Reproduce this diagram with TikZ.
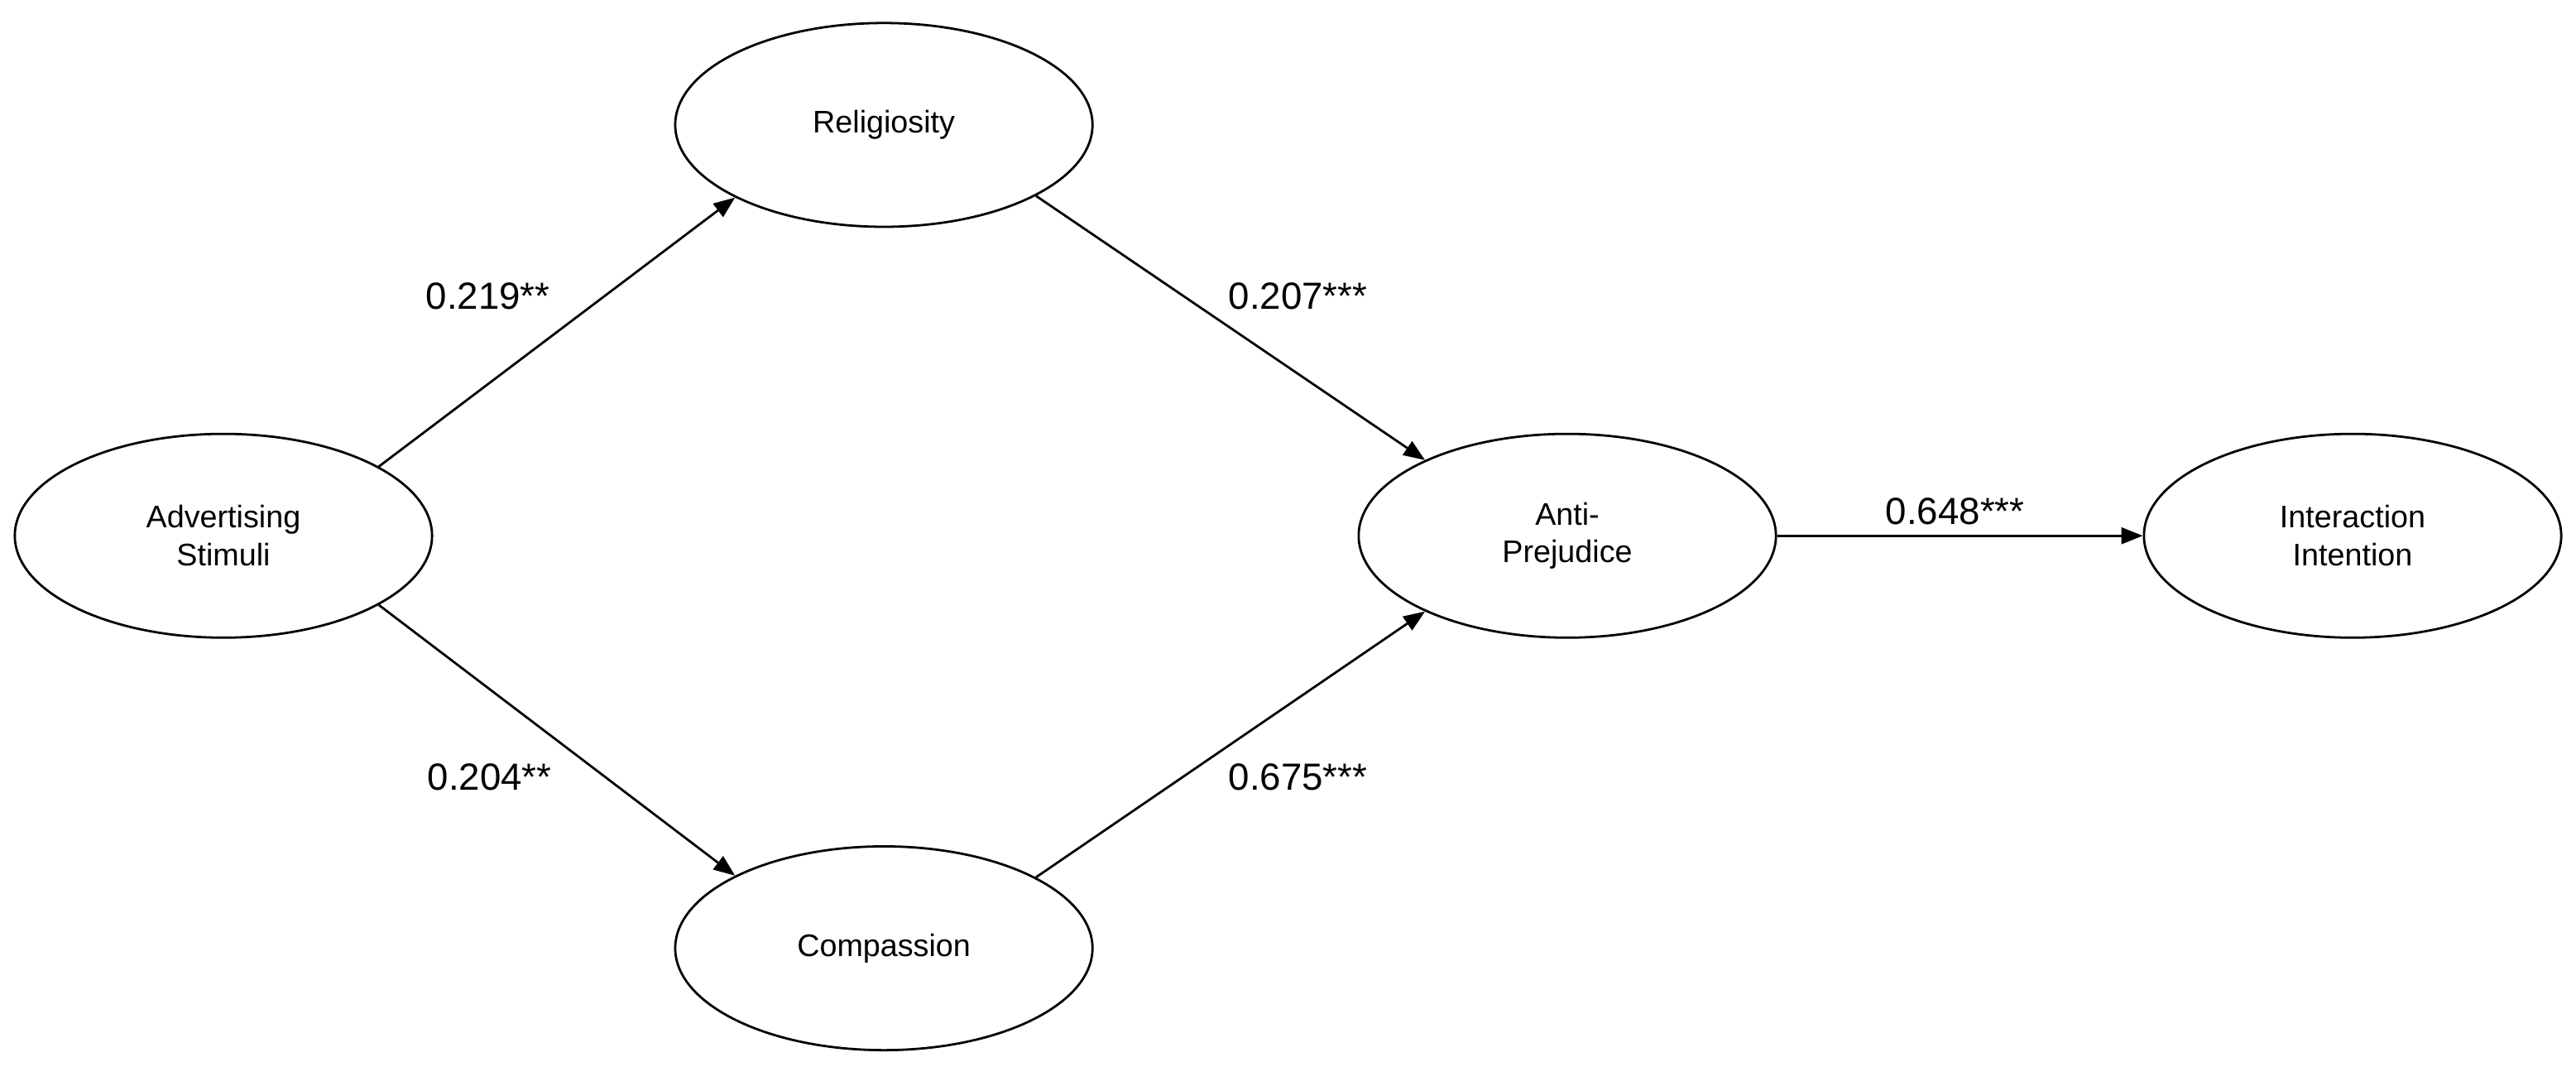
\documentclass[tikz,border=0pt]{standalone}
\usepackage{fontspec}
\setmainfont{Liberation Sans}
\usetikzlibrary{shapes.geometric,arrows.meta}
\begin{document}
\begin{tikzpicture}[x=1pt,y=-1pt,
  ell/.style={ellipse,draw,line width=1.4pt,minimum width=254pt,minimum height=124pt,inner sep=0pt,align=center,font=\fontsize{19}{23}\selectfont},
  arr/.style={line width=1.4pt,-{Triangle[length=13pt,width=10pt]}},
  lab/.style={font=\fontsize{23}{27}\selectfont}]
\useasboundingbox (0,0) rectangle (1568,649);
\node[ell] (adv) at (136,326) {Advertising\\Stimuli};
\node[ell] (rel) at (538,76) {Religiosity};
\node[ell] (com) at (538,577) {Compassion};
\node[ell] (anti) at (954,326) {Anti-\\Prejudice};
\node[ell] (int) at (1432,326) {Interaction\\Intention};
\draw[arr] (adv.24) -- (rel.206);
\draw[arr] (adv.-24) -- (com.154);
\draw[arr] (rel.-25) -- (anti.152);
\draw[arr] (com.25) -- (anti.-152);
\draw[arr] (anti.east) -- (int.west);
\node[lab] (l1) at (297,180) {0.219**};
\node[lab] (l2) at (790,180) {0.207***};
\node[lab] (l3) at (298,473) {0.204**};
\node[lab] (l4) at (790,473) {0.675***};
\node[lab] (l5) at (1190,311) {0.648***};
\end{tikzpicture}
\end{document}
